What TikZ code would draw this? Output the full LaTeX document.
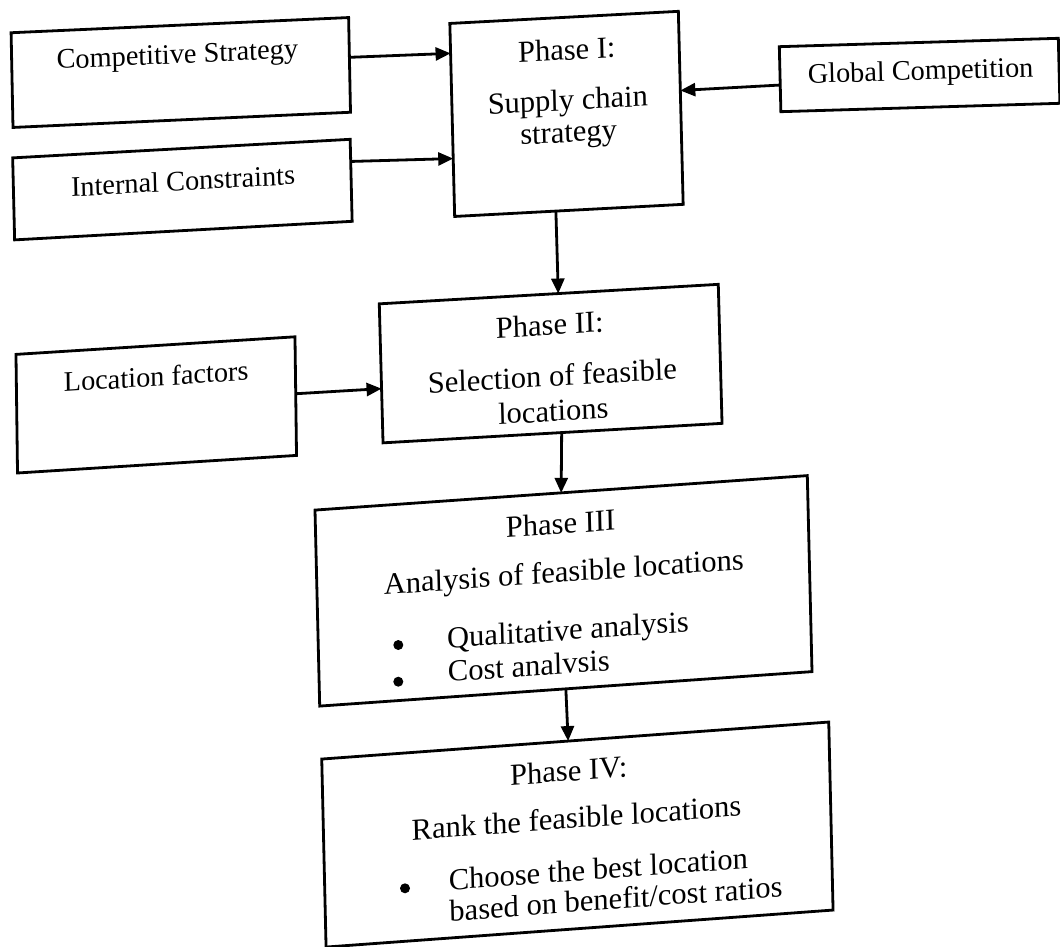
\documentclass[tikz,border=0pt]{standalone}
\usepackage{fontspec}
\setmainfont{Liberation Serif}
\usetikzlibrary{arrows.meta,calc}
\tikzset{
  sh/.style 2 args={cm={1,#1,-#2,1,(0,0)}},
  box/.style={draw, line width=2.8pt, inner sep=0pt, outer sep=0pt},
  big/.style={inner sep=0pt, font=\fontsize{30.5}{32}\selectfont},
  small/.style={inner sep=0pt, font=\fontsize{28.3}{34}\selectfont},
  conn/.style={line width=2.8pt, -{Triangle[length=15pt,width=13pt]}},
  dot/.style={circle, fill, inner sep=0pt, minimum size=10pt},
}
\begin{document}
\begin{tikzpicture}[x=1pt,y=-1pt]
\useasboundingbox (0,0) rectangle (1060,947);
% boxes
\node[box, sh={0.045}{0.02},  minimum width=337.5pt, minimum height=94.7pt] (cs) at (180.8,72.5) {};
\node[box, sh={0.055}{0.024}, minimum width=337.5pt, minimum height=82pt]   (ic) at (182.4,189.6) {};
\node[box, sh={0.030}{0.024}, minimum width=279pt,   minimum height=65pt]   (gc) at (919.6,75) {};
\node[box, sh={0.053}{0.025}, minimum width=228.5pt, minimum height=193pt]  (p1) at (566.5,113.9) {};
\node[box, sh={0.063}{0.013}, minimum width=279pt,   minimum height=118.6pt] (lf) at (156.25,404.9) {};
\node[box, sh={0.0575}{0.027}, minimum width=339pt,  minimum height=139pt]  (p2) at (550.65,363.6) {};
\node[box, sh={0.070}{0.024}, minimum width=492.3pt, minimum height=196pt]  (p3) at (563.5,590.85) {};
\node[box, sh={0.073}{0.023}, minimum width=507pt,   minimum height=188pt]  (p4) at (577.4,834.55) {};
% texts
\node[small, sh={0.045}{0.02},  anchor=base] (tcs) at (177.5,63.5) {Competitive Strategy};
\node[small, sh={0.055}{0.024}, anchor=base] (tic) at (183.3,190.5) {Internal Constraints};
\node[small, sh={0.030}{0.024}, anchor=base] (tgc) at (920.8,80) {Global Competition};
\node[small, sh={0.063}{0.013}, anchor=base] (tlf) at (156.3,386) {Location factors};
\node[big, sh={0.053}{0.025}, anchor=base] (t1a) at (567,60) {Phase I:};
\node[big, sh={0.053}{0.025}, anchor=north, align=center] (t1b) at (567.5,87.6)
  {\strut Supply chain\\\strut strategy};
\node[big, sh={0.0575}{0.027}, anchor=base] (t2a) at (550,335) {Phase II:};
\node[big, sh={0.0575}{0.027}, anchor=north, align=center] (t2b) at (552,363.6)
  {\strut Selection of feasible\\[3pt]\strut locations};
\node[big, sh={0.070}{0.024}, anchor=base] (t3a) at (560.8,534) {Phase III};
\node[big, sh={0.070}{0.024}, anchor=base] (t3b) at (564,582) {Analysis of feasible locations};
\node[big, sh={0.070}{0.024}, anchor=north west, align=left] (t3c) at (446.7,625.9)
  {\strut Qualitative analysis\\[1.4pt]\strut Cost analvsis};
\node[dot] (b3a) at (398.3,645) {};
\node[dot] (b3b) at (398.3,681.7) {};
\node[big, sh={0.073}{0.023}, anchor=base] (t4a) at (569,781) {Phase IV:};
\node[big, sh={0.073}{0.023}, anchor=base] (t4b) at (576.7,828) {Rank the feasible locations};
\node[big, sh={0.073}{0.023}, anchor=north west, align=left] (t4c) at (448.3,867.6)
  {\strut Choose the best location\\[-1pt]\strut based on benefit/cost ratios};
\node[dot] (b4a) at (405,888.3) {};
% connectors
\draw[conn] ($(cs.north east)!0.42!(cs.south east)$) -- ($(p1.north west)!0.155!(p1.south west)$);
\draw[conn] ($(ic.north east)!0.27!(ic.south east)$) -- ($(p1.north west)!0.70!(p1.south west)$);
\draw[conn] ($(gc.north west)!0.59!(gc.south west)$) -- ($(p1.north east)!0.41!(p1.south east)$);
\draw[conn] ($(p1.south west)!0.443!(p1.south east)$) -- ($(p2.north west)!0.528!(p2.north east)$);
\draw[conn] ($(lf.north east)!0.48!(lf.south east)$) -- ($(p2.north west)!0.61!(p2.south west)$);
\draw[conn] ($(p2.south west)!0.527!(p2.south east)$) -- ($(p3.north west)!0.50!(p3.north east)$);
\draw[conn] ($(p3.south west)!0.50!(p3.south east)$) -- ($(p4.north west)!0.486!(p4.north east)$);
\end{tikzpicture}
\end{document}
